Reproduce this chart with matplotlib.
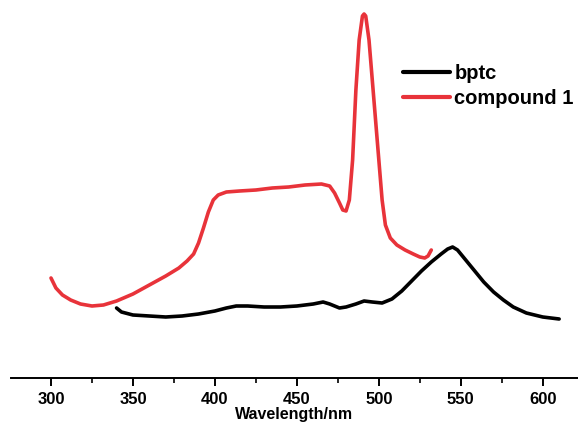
import matplotlib
matplotlib.use("Agg")
import matplotlib.pyplot as plt
from matplotlib.ticker import MultipleLocator

plt.rcParams['font.family'] = ['Liberation Sans', 'DejaVu Sans']

# compound 1 emission (wavelength nm, relative intensity a.u.)
red_wl = [300, 303, 307, 312, 318, 325, 332, 340, 350, 360, 370, 378, 383, 387, 390,
          393, 396, 399, 402, 407, 415, 425, 435, 445, 455, 465, 470, 473, 476, 478,
          480, 482, 484, 486, 488, 490, 491, 492, 494, 496, 498, 500, 502, 504, 507,
          511, 516, 521, 525, 528, 530, 532]
red_px = [278, 288, 295, 300, 304, 306, 305, 301, 294, 285, 276, 268, 261, 254, 243,
          228, 212, 200, 195, 192, 191, 190, 188, 187, 185, 184, 186, 193, 203, 210,
          211, 200, 160, 90, 40, 16, 14, 16, 40, 80, 120, 160, 200, 225, 238,
          245, 250, 254, 257, 258, 256, 250]
red_int = [378 - v for v in red_px]

# bptc emission
blk_wl = [340, 343, 350, 360, 370, 380, 390, 400, 407, 413, 420, 430, 440, 450, 460,
          466, 470, 476, 480, 486, 491, 496, 502, 508, 514, 520, 526, 532, 538, 542,
          545, 548, 552, 558, 564, 570, 576, 582, 590, 600, 610]
blk_px = [308, 312, 315, 316, 317, 316, 314, 311, 308, 306, 306, 307, 307, 306, 304,
          302, 304, 308, 307, 304, 301, 302, 303, 299, 291, 281, 271, 262, 254, 249,
          247, 250, 258, 270, 282, 292, 300, 307, 313, 317, 319]
blk_int = [378 - v for v in blk_px]

series_names = ["bptc", "compound 1"]
xticks = [300, 350, 400, 450, 500, 550, 600]

fig = plt.figure(figsize=(5.78, 4.25), dpi=100)
ax = fig.add_axes([11/578, 47/425, 1 - 11/578, 1 - 47/425])

ax.plot(blk_wl, blk_int, color='black', lw=2.6, label=series_names[0],
        solid_capstyle='round', solid_joinstyle='round')
ax.plot(red_wl, red_int, color='#e8333a', lw=2.6, label=series_names[1],
        solid_capstyle='round', solid_joinstyle='round')

ax.set_xlim(275.6, 621.5)
ax.set_ylim(0, 378)
for s in ['top', 'right', 'left']:
    ax.spines[s].set_visible(False)
ax.spines['bottom'].set_linewidth(1.4)
ax.set_yticks([])
ax.set_xticks(xticks)
ax.xaxis.set_minor_locator(MultipleLocator(25))
ax.tick_params(axis='x', which='major', direction='out', length=6, width=1.4,
               labelsize=12, pad=4)
ax.tick_params(axis='x', which='minor', direction='out', length=3.5, width=1.2)
for lab in ax.get_xticklabels():
    lab.set_fontweight('bold')
ax.set_xlabel('Wavelength/nm', fontsize=11.5, fontweight='bold', labelpad=0)

leg = ax.legend(loc='upper left', bbox_to_anchor=(393/578, 1 - 54/425),
                bbox_transform=fig.transFigure, frameon=False, borderpad=0,
                prop={'weight': 'bold', 'size': 14.5}, handlelength=2.35,
                handletextpad=0.2, labelspacing=0.3)
for line in leg.get_lines():
    line.set_linewidth(3)

fig.savefig('out.png', dpi=100)
